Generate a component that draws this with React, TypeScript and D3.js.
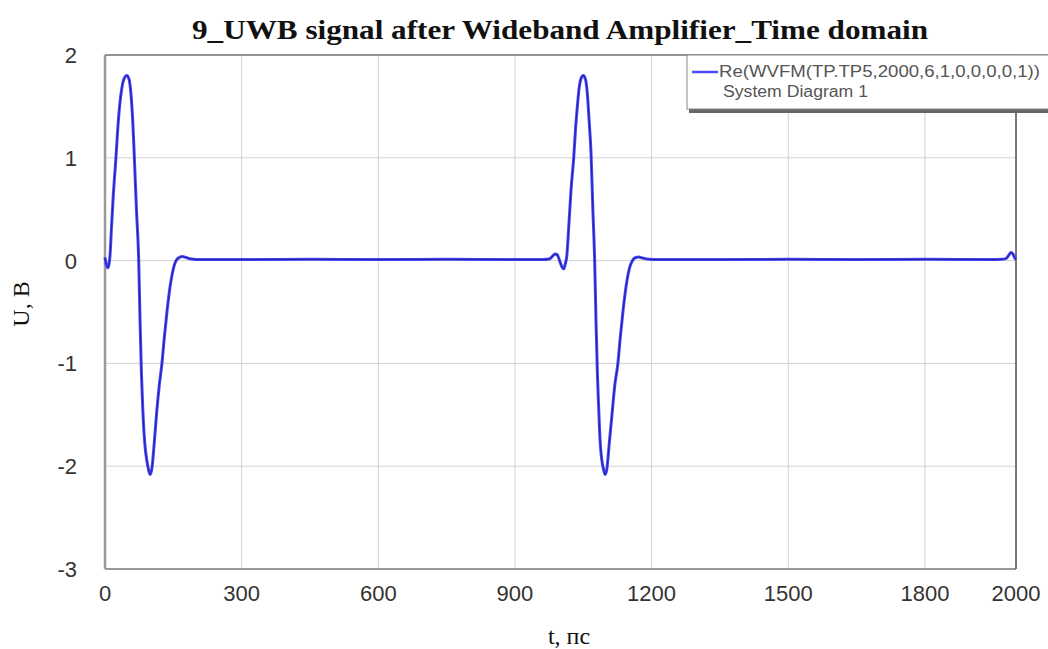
import React from "react";
import * as d3 from "d3";

const xTicks = [0, 300, 600, 900, 1200, 1500, 1800, 2000];
const yTicks = [2, 1, 0, -1, -2, -3];

const titleText = "9_UWB signal after Wideband Amplifier_Time domain";
const legendLine1 = "Re(WVFM(TP.TP5,2000,6,1,0,0,0,0,1))";
const legendLine2 = "System Diagram 1";
const xLabel = "t, пс";
const yLabel = "U, В";

// first pulse (ps, V)
const pulse1: [number, number][] = [
  [0, 0.03], [3, -0.04], [6, -0.07], [9, -0.03], [11, 0.05], [14, 0.3], [18, 0.62],
  [24, 1.0], [28, 1.28], [32, 1.5], [37, 1.68], [42, 1.77], [48, 1.8], [53, 1.76],
  [57, 1.62], [61, 1.35], [64, 1.05], [69, 0.5], [74, 0.0], [77, -0.6], [80, -1.1],
  [83, -1.45], [87, -1.76], [92, -1.95], [96, -2.04], [99, -2.08], [103, -2.02],
  [108, -1.78], [113, -1.5], [119, -1.22], [125, -1.0], [130, -0.76], [136, -0.5], [143, -0.25],
  [150, -0.08], [156, 0.0], [163, 0.03], [170, 0.04], [178, 0.03], [190, 0.015], [210, 0.01],
];

// baseline between pulses
const flat1: [number, number][] = [
  [300, 0.01], [450, 0.012], [600, 0.01], [750, 0.012], [900, 0.01],
];

// second pulse
const pulse2: [number, number][] = [
  [960, 0.01], [975, 0.015], [982, 0.04], [988, 0.065], [993, 0.055], [998, 0.0],
  [1003, -0.06], [1007, -0.08], [1010, -0.04], [1014, 0.05], [1018, 0.32], [1023, 0.68],
  [1029, 1.0], [1033, 1.28], [1037, 1.5], [1041, 1.68], [1045, 1.77], [1050, 1.8],
  [1055, 1.76], [1059, 1.62], [1063, 1.35], [1067, 1.05], [1071, 0.5], [1075, 0.0],
  [1078, -0.6], [1081, -1.1], [1084, -1.45], [1087, -1.76], [1091, -1.95], [1095, -2.04],
  [1098, -2.08], [1102, -2.02], [1107, -1.78], [1113, -1.5], [1119, -1.22], [1126, -1.0],
  [1131, -0.76], [1137, -0.5], [1144, -0.25], [1151, -0.08], [1158, 0.0], [1165, 0.03],
  [1172, 0.035], [1180, 0.025], [1195, 0.012], [1215, 0.01],
];

const flat2: [number, number][] = [
  [1350, 0.01], [1500, 0.012], [1650, 0.01], [1800, 0.012], [1950, 0.01],
];

// start of next pulse at the right edge
const tail: [number, number][] = [
  [1968, 0.012], [1978, 0.02], [1983, 0.045], [1989, 0.08], [1993, 0.065], [1997, 0.03], [2000, 0.01],
];

const W = 1048;
const H = 649;
const L = 105;
const R = 1016;
const T = 55;
const B = 569;

export default function App() {
  const x = d3.scaleLinear().domain([0, 2000]).range([L, R]);
  const y = d3.scaleLinear().domain([-3, 2]).range([B, T]);
  const data = [...pulse1, ...flat1, ...pulse2, ...flat2, ...tail];
  const line = d3
    .line<[number, number]>()
    .x((d) => x(d[0]))
    .y((d) => y(d[1]))
    .curve(d3.curveMonotoneX);
  const path = line(data) || "";

  const legX = 687;
  const legY = 55;
  const legH = 55;
  const sans = "Arial, 'Liberation Sans', sans-serif";
  const serif = "'Times New Roman', 'Liberation Serif', serif";

  return (
    <svg
      width={W}
      height={H}
      style={{ position: "absolute", left: 0, top: 0, background: "#fff" }}
    >
      <rect x={0} y={0} width={W} height={H} fill="#fff" />
      {/* grid */}
      {xTicks.map((t) => (
        <line key={"gx" + t} x1={x(t)} x2={x(t)} y1={T} y2={B} stroke="#d2d2d2" strokeWidth={1} />
      ))}
      {yTicks.map((t) => (
        <line key={"gy" + t} x1={L} x2={R} y1={y(t)} y2={y(t)} stroke="#d2d2d2" strokeWidth={1} />
      ))}
      {/* frame */}
      <line x1={L} x2={L} y1={T} y2={B} stroke="#999" strokeWidth={2.5} />
      <line x1={L} x2={R} y1={B} y2={B} stroke="#999" strokeWidth={2} />
      <line x1={L} x2={W} y1={T} y2={T} stroke="#777" strokeWidth={1.5} />
      <line x1={R} x2={R} y1={T} y2={B} stroke="#555" strokeWidth={1.5} />

      {/* signal */}
      <path d={path} fill="none" stroke="#4a4aff" strokeWidth={3} strokeLinejoin="round" />
      <path d={path} fill="none" stroke="#1a1a9a" strokeWidth={1.2} strokeLinejoin="round" opacity={0.8} />

      {/* legend */}
      <rect x={legX + 2} y={legY + 3} width={W - legX} height={legH} fill="#666" />
      <rect x={legX} y={legY} width={W - legX + 2} height={legH - 1} fill="#fff" stroke="#888" strokeWidth={1} />
      <line x1={legX + 5} x2={legX + 31} y1={legY + 17} y2={legY + 17} stroke="#4a4aff" strokeWidth={2.5} />
      <text
        x={legX + 32}
        y={legY + 22}
        fontFamily={sans}
        fontSize={16}
        fill="#555"
        textLength={321}
        lengthAdjust="spacingAndGlyphs"
      >
        {legendLine1}
      </text>
      <text
        x={legX + 36}
        y={legY + 42}
        fontFamily={sans}
        fontSize={16}
        fill="#555"
        textLength={145}
        lengthAdjust="spacingAndGlyphs"
      >
        {legendLine2}
      </text>

      {/* tick labels */}
      {xTicks.map((t) => (
        <text
          key={"tx" + t}
          x={x(t)}
          y={601}
          textAnchor="middle"
          fontFamily={sans}
          fontSize={22}
          fill="#333"
        >
          {t}
        </text>
      ))}
      {yTicks.map((t) => (
        <text
          key={"ty" + t}
          x={77}
          y={y(t)}
          dy="0.36em"
          textAnchor="end"
          fontFamily={sans}
          fontSize={22}
          fill="#333"
        >
          {t}
        </text>
      ))}

      {/* title */}
      <text
        x={192}
        y={39}
        fontFamily={serif}
        fontWeight="bold"
        fontSize={27}
        fill="#111"
        textLength={736}
        lengthAdjust="spacingAndGlyphs"
      >
        {titleText}
      </text>

      {/* axis labels */}
      <text x={569} y={644} textAnchor="middle" fontFamily={serif} fontSize={24} fill="#111">
        {xLabel}
      </text>
      <text
        transform={`translate(29,304) rotate(-90)`}
        textAnchor="middle"
        fontFamily={serif}
        fontSize={24}
        fill="#111"
      >
        {yLabel}
      </text>
    </svg>
  );
}
